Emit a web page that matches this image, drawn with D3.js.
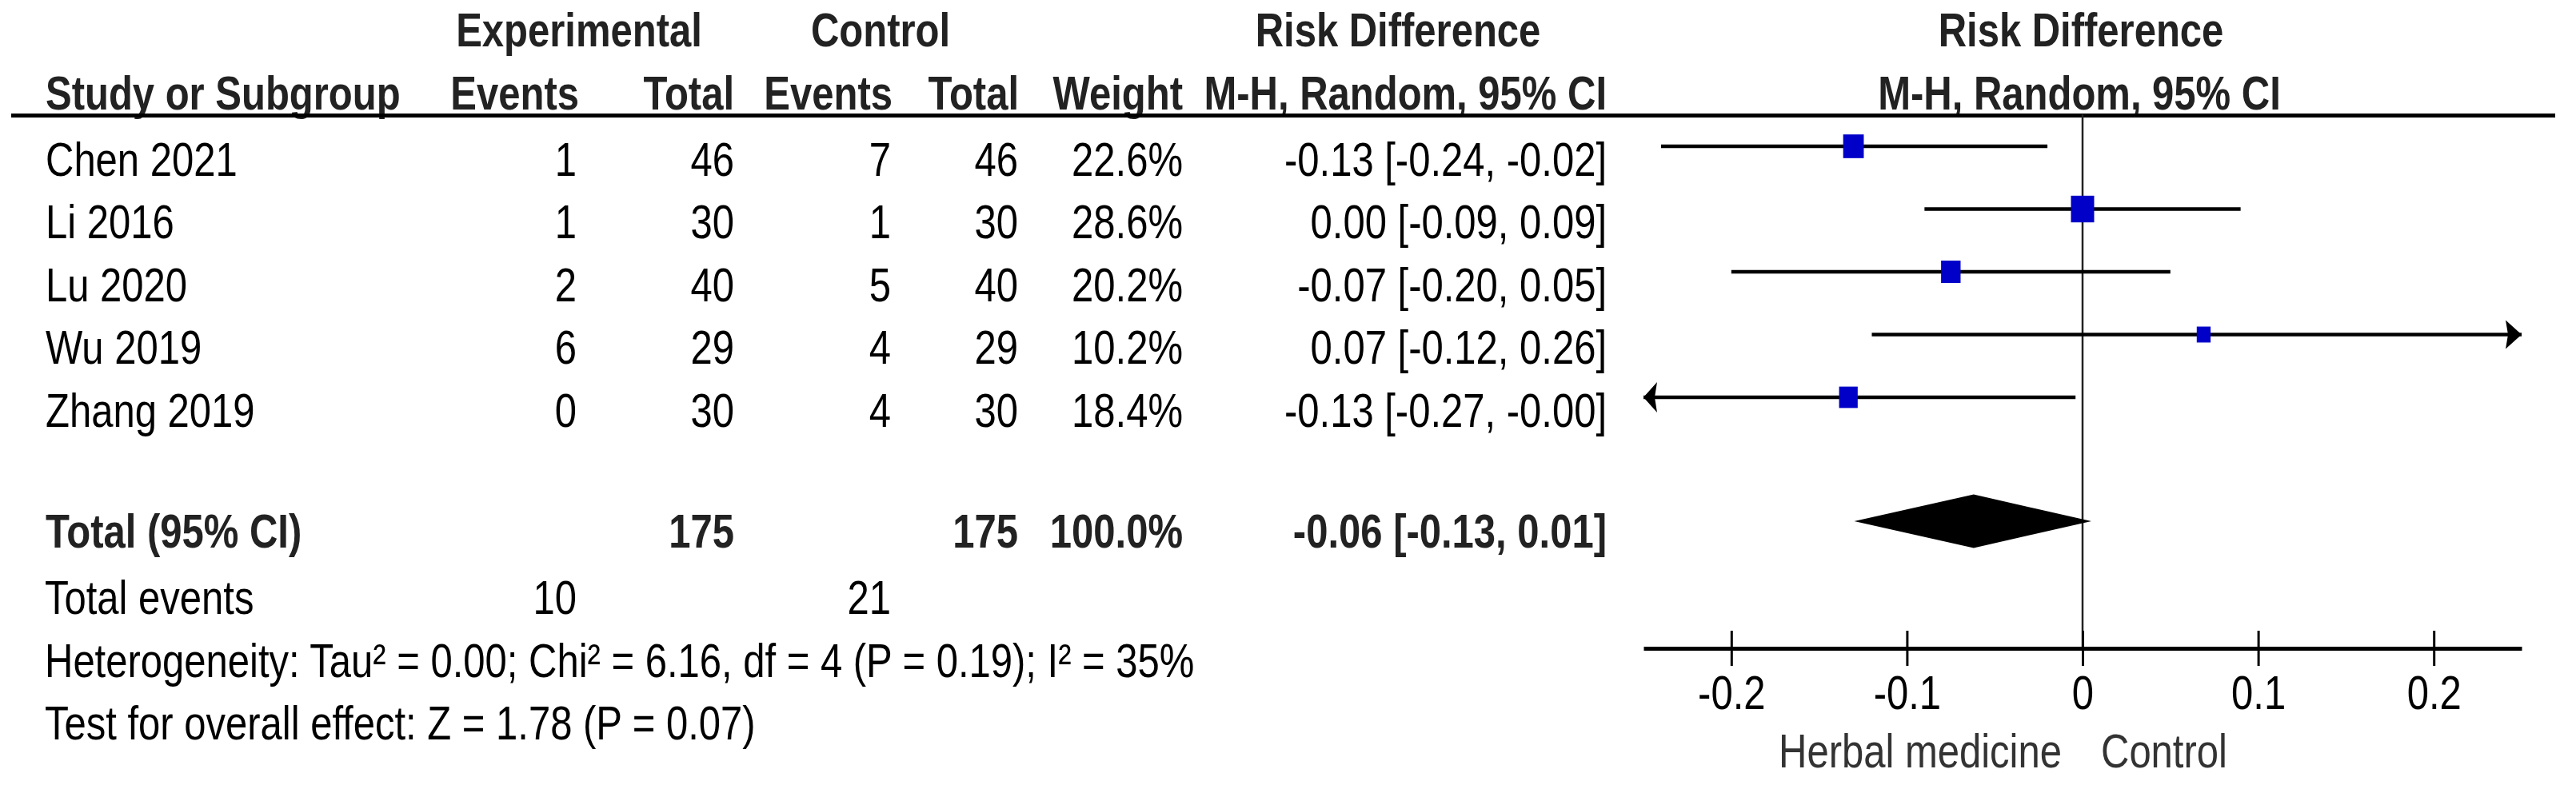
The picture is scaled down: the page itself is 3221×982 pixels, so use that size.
<!DOCTYPE html>
<html>
<head>
<meta charset="utf-8">
<script src="https://cdn.jsdelivr.net/npm/d3@7"></script>
<style>
  html, body { margin: 0; padding: 0; background: #fff; }
  svg { display: block; font-family: "Liberation Sans", Arial, sans-serif; }
</style>
</head>
<body>
<div id="chart"></div>
<script>
// study data
const studies   = ["Chen 2021", "Li 2016", "Lu 2020", "Wu 2019", "Zhang 2019"];
const expEvents = [1, 1, 2, 6, 0];
const expTotal  = [46, 30, 40, 29, 30];
const ctlEvents = [7, 1, 5, 4, 4];
const ctlTotal  = [46, 30, 40, 29, 30];
const weights   = [22.6, 28.6, 20.2, 10.2, 18.4];
const ciLow     = [-0.24, -0.09, -0.20, -0.12, -0.27];
const ciHigh    = [-0.02, 0.09, 0.05, 0.26, -0.004];

// pooled estimate
const pooledRD   = -0.062;
const pooledLow  = -0.13;
const pooledHigh = 0.005;

const axisTicks = [-0.2, -0.1, 0, 0.1, 0.2];
const heterogeneityText = "Heterogeneity: Tau\u00b2 = 0.00; Chi\u00b2 = 6.16, df = 4 (P = 0.19); I\u00b2 = 35%";
const overallText = "Test for overall effect: Z = 1.78 (P = 0.07)";
const favoursLeft = "Herbal medicine";
const favoursRight = "Control";

const W = 3221, H = 982;
const SY = 1.21;          // the original picture is stretched vertically
const FS = 49;

const rd = studies.map((_, i) => expEvents[i] / expTotal[i] - ctlEvents[i] / ctlTotal[i]);
const fmt = v => (v < 0 ? "-" : "") + Math.abs(v).toFixed(2);
const ciLabel = (m, lo, hi) => `${fmt(m)} [${fmt(lo)}, ${fmt(hi)}]`;

const svg = d3.select("#chart").append("svg")
    .attr("width", W).attr("height", H)
    .attr("font-size", FS);

function txt(x, y, s, anchor = "start", bold = false, fill = "#000") {
  return svg.append("text")
      .attr("transform", `translate(${x},${y}) scale(1,${SY})`)
      .attr("text-anchor", anchor)
      .attr("font-weight", bold ? "bold" : "normal")
      .attr("fill", fill)
      .text(s);
}

// column anchors (right edges)
const col = { study: 57, expE: 721, expN: 918, ctlE: 1114, ctlN: 1273, wt: 1479, ci: 2009 };
const hdr = "#222";

// header rows
txt(724, 58, "Experimental", "middle", true, hdr);
txt(1101, 58, "Control", "middle", true, hdr);
txt(1748, 58, "Risk Difference", "middle", true, hdr);
txt(2602, 58, "Risk Difference", "middle", true, hdr);
txt(col.study, 137, "Study or Subgroup", "start", true, hdr);
txt(col.expE + 3, 137, "Events", "end", true, hdr);
txt(col.expN, 137, "Total", "end", true, hdr);
txt(col.ctlE + 2, 137, "Events", "end", true, hdr);
txt(col.ctlN + 1, 137, "Total", "end", true, hdr);
txt(col.wt, 137, "Weight", "end", true, hdr);
txt(col.ci, 137, "M-H, Random, 95% CI", "end", true, hdr);
txt(2600, 137, "M-H, Random, 95% CI", "middle", true, hdr);

svg.append("line")
    .attr("x1", 14).attr("x2", 3195)
    .attr("y1", 144.5).attr("y2", 144.5)
    .attr("stroke", "#000").attr("stroke-width", 5);

// scales
const x = d3.scaleLinear().domain([-0.25, 0.25]).range([2055, 3153]);
const y = d3.scaleLinear().domain([0, studies.length - 1]).range([183, 497]);
const size = d3.scaleSqrt().domain([0, d3.max(weights)]).range([0, 29]);
const textDY = 36.5;

// study rows: table part
studies.forEach((s, i) => {
  const by = y(i) + textDY;
  txt(col.study, by, s);
  txt(col.expE, by, expEvents[i], "end");
  txt(col.expN, by, expTotal[i], "end");
  txt(col.ctlE, by, ctlEvents[i], "end");
  txt(col.ctlN, by, ctlTotal[i], "end");
  txt(col.wt, by, weights[i].toFixed(1) + "%", "end");
  txt(col.ci, by, ciLabel(rd[i], ciLow[i], ciHigh[i]), "end");
});

// zero line
const [xMin, xMax] = x.domain();
svg.append("line")
    .attr("x1", x(0)).attr("x2", x(0))
    .attr("y1", 143).attr("y2", 811)
    .attr("stroke", "#222").attr("stroke-width", 2.5);

// confidence intervals with arrows where they run off the scale
const plot = svg.append("g");
studies.forEach((s, i) => {
  const lo = Math.max(ciLow[i], xMin), hi = Math.min(ciHigh[i], xMax);
  const cy = y(i);
  plot.append("line")
      .attr("x1", x(lo)).attr("x2", x(hi))
      .attr("y1", cy).attr("y2", cy)
      .attr("stroke", "#000").attr("stroke-width", 4.5);
  if (ciHigh[i] > xMax) {
    const tx = x(xMax);
    plot.append("path")
        .attr("d", `M${tx},${cy} L${tx - 20},${cy - 18} L${tx - 17},${cy} L${tx - 20},${cy + 18} Z`)
        .attr("fill", "#000");
  }
  if (ciLow[i] < xMin) {
    const tx = x(xMin);
    plot.append("path")
        .attr("d", `M${tx},${cy} L${tx + 17},${cy - 19} L${tx + 14},${cy} L${tx + 17},${cy + 19} Z`)
        .attr("fill", "#000");
  }
  const w = size(weights[i]), h = w * 1.15;
  plot.append("rect")
      .attr("x", x(rd[i]) - w / 2).attr("y", cy - h / 2)
      .attr("width", w).attr("height", h)
      .attr("fill", "#0000c8");
});

// total row
const totalBase = 685;
txt(col.study, totalBase, "Total (95% CI)", "start", true, hdr);
txt(col.expN, totalBase, d3.sum(expTotal), "end", true, hdr);
txt(col.ctlN, totalBase, d3.sum(ctlTotal), "end", true, hdr);
txt(col.wt, totalBase, d3.sum(weights).toFixed(1) + "%", "end", true, hdr);
txt(col.ci, totalBase, ciLabel(pooledRD, pooledLow, pooledHigh), "end", true, hdr);

const dy = 652, dh = 33.5;
svg.append("path")
    .attr("d", `M${x(pooledLow)},${dy} L${x(pooledRD)},${dy - dh} L${x(pooledHigh)},${dy} L${x(pooledRD)},${dy + dh} Z`)
    .attr("fill", "#000");

txt(56, 768, "Total events");
txt(col.expE, 768, d3.sum(expEvents), "end");
txt(col.ctlE, 768, d3.sum(ctlEvents), "end");
txt(56, 847, heterogeneityText);
txt(56, 925, overallText);

// x axis
const axisY = 811;
const axis = svg.append("g")
    .attr("transform", `translate(0,${axisY})`)
    .call(d3.axisBottom(x)
        .tickValues(axisTicks)
        .tickSizeOuter(0)
        .tickSizeInner(22)
        .tickFormat(d => d === 0 ? "0" : (d < 0 ? "-" : "") + Math.abs(d)));
axis.select(".domain").attr("stroke", "#000").attr("stroke-width", 5);
axis.selectAll(".tick line").attr("y1", -22).attr("y2", 22)
    .attr("stroke", "#000").attr("stroke-width", 3);
axis.selectAll(".tick text")
    .attr("y", null).attr("dy", null)
    .attr("transform", `translate(0,76) scale(1,${SY})`)
    .attr("font-size", FS)
    .attr("font-family", "'Liberation Sans', Arial, sans-serif")
    .attr("fill", "#000");

txt(x(0) - 26, 960, favoursLeft, "end", false, "#333");
txt(x(0) + 23, 960, favoursRight, "start", false, "#333");
</script>
</body>
</html>
